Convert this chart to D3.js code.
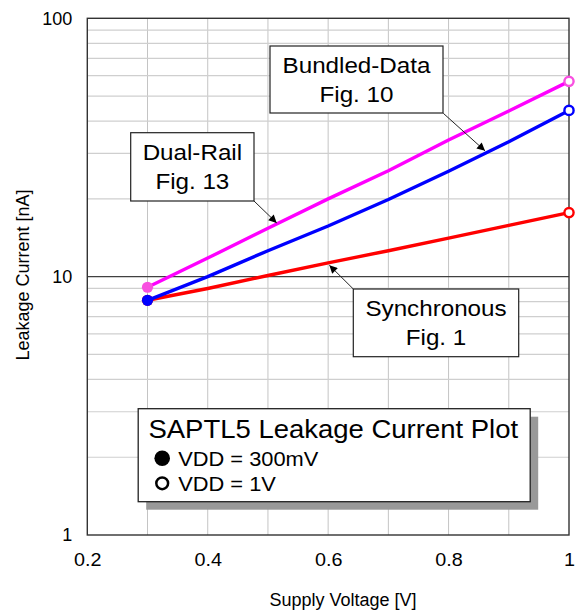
<!DOCTYPE html>
<html>
<head>
<meta charset="utf-8">
<script src="https://cdn.jsdelivr.net/npm/d3@7"></script>
<style>
  html, body { margin: 0; padding: 0; background: #fff; }
  svg { display: block; font-family: "Liberation Sans", Arial, sans-serif; }
</style>
</head>
<body>
<svg id="chart" width="588" height="612"></svg>
<script>
// ---------------- data ----------------
const voltages     = [0.3, 0.4, 0.5, 0.6, 0.7, 0.8, 0.9, 1.0];
const dualRail     = [9.1, 11.8, 15.4, 20.0, 25.7, 33.8, 43.8, 57.0];
const bundledData  = [8.1, 10.0, 12.6, 15.7, 19.9, 25.6, 33.3, 44.0];
const synchronous  = [8.1, 9.0, 10.1, 11.3, 12.6, 14.1, 15.8, 17.7];

const xTickValues  = [0.2, 0.4, 0.6, 0.8, 1.0];
const yTickValues  = [1, 10, 100];
const xGridValues  = [0.3, 0.4, 0.5, 0.6, 0.7, 0.8, 0.9];

const seriesNames  = ["Synchronous", "Bundled-Data", "Dual-Rail"];
const seriesLabels = [["Synchronous", "Fig. 1"], ["Bundled-Data", "Fig. 10"], ["Dual-Rail", "Fig. 13"]];
const legendTitle  = "SAPTL5 Leakage Current Plot";
const legendItems  = ["VDD = 300mV", "VDD = 1V"];
const xTitle = "Supply Voltage [V]";
const yTitle = "Leakage Current [nA]";

// ---------------- layout ----------------
const svg = d3.select("#chart");
const plot = { left: 87.3, right: 569, top: 18.3, bottom: 535 };
const FONT = '"Liberation Sans", Arial, sans-serif';

const x = d3.scaleLinear().domain([0.2, 1.0]).range([plot.left, plot.right]);
const y = d3.scaleLog().domain([1, 100]).range([plot.bottom, plot.top]);

const seriesStyle = {
  "Synchronous":  { values: synchronous, line: "#ff0000", marker: "#ff0000" },
  "Bundled-Data": { values: bundledData, line: "#0000ff", marker: "#0000ff" },
  "Dual-Rail":    { values: dualRail,    line: "#ff00ff", marker: "#f850e0" }
};

// ---------------- grid ----------------
const grid = svg.append("g");
grid.selectAll("line.vg").data(xGridValues).join("line")
  .attr("x1", d => x(d)).attr("x2", d => x(d))
  .attr("y1", plot.top).attr("y2", plot.bottom)
  .attr("stroke", "#c4c4c4").attr("stroke-width", 1);

const minorY = y.ticks().filter(v => yTickValues.indexOf(v) < 0);
grid.selectAll("line.hg").data(minorY).join("line")
  .attr("x1", plot.left).attr("x2", plot.right)
  .attr("y1", d => y(d)).attr("y2", d => y(d))
  .attr("stroke", "#cfcfcf").attr("stroke-width", 1.2);

grid.selectAll("line.hm").data([10]).join("line")
  .attr("x1", plot.left).attr("x2", plot.right)
  .attr("y1", d => y(d)).attr("y2", d => y(d))
  .attr("stroke", "#404040").attr("stroke-width", 1.3);

// frame
svg.append("rect")
  .attr("x", plot.left).attr("y", plot.top)
  .attr("width", plot.right - plot.left).attr("height", plot.bottom - plot.top)
  .attr("fill", "none").attr("stroke", "#333").attr("stroke-width", 1.4);

// ---------------- axes ----------------
const xAxis = d3.axisBottom(x).tickValues(xTickValues).tickSize(0).tickPadding(18)
  .tickFormat(d => d === 1 ? "1" : d3.format(".1f")(d));
const gx = svg.append("g").attr("transform", `translate(0,${plot.bottom})`).call(xAxis);
gx.select(".domain").remove();
gx.selectAll("text").attr("font-size", 19).attr("font-family", FONT).attr("fill", "#000")
  .attr("transform", "scale(1.04,1)");

const yAxis = d3.axisLeft(y).tickValues(yTickValues).tickSize(0).tickPadding(15)
  .tickFormat(d3.format("d"));
const gy = svg.append("g").attr("transform", `translate(${plot.left},0)`).call(yAxis);
gy.select(".domain").remove();
gy.selectAll("text").attr("font-size", 18).attr("font-family", FONT).attr("fill", "#000");

svg.append("text").attr("x", 343).attr("y", 606)
  .attr("text-anchor", "middle").attr("font-size", 18).text(xTitle);
svg.append("text").attr("transform", "translate(28.5,275) rotate(-90)")
  .attr("text-anchor", "middle").attr("font-size", 18).text(yTitle);

// ---------------- series ----------------
const line = d3.line().x(d => x(d[0])).y(d => y(d[1]));
const seriesG = svg.append("g");
seriesNames.forEach(name => {
  const s = seriesStyle[name];
  const pts = voltages.map((v, i) => [v, s.values[i]]);
  seriesG.append("path").datum(pts)
    .attr("d", line).attr("fill", "none")
    .attr("stroke", s.line).attr("stroke-width", 3.4)
    .attr("stroke-linejoin", "round");
  const first = pts[0], last = pts[pts.length - 1];
  seriesG.append("circle").attr("cx", x(first[0])).attr("cy", y(first[1]))
    .attr("r", 5.6).attr("fill", s.marker);
  seriesG.append("circle").attr("cx", x(last[0])).attr("cy", y(last[1]))
    .attr("r", 4.6).attr("fill", "#fff").attr("stroke", s.marker).attr("stroke-width", 2.4);
});

// ---------------- annotations ----------------
const defs = svg.append("defs");
defs.append("marker").attr("id", "arrow").attr("viewBox", "0 0 10 10")
  .attr("refX", 10).attr("refY", 5).attr("markerWidth", 9).attr("markerHeight", 8)
  .attr("markerUnits", "userSpaceOnUse").attr("orient", "auto")
  .append("path").attr("d", "M0,0 L10,5 L0,10 Z").attr("fill", "#000");

function valueAt(name, v) {
  const vals = seriesStyle[name].values;
  for (let i = 0; i < voltages.length - 1; i++) {
    if (v >= voltages[i] && v <= voltages[i + 1]) {
      const t = (v - voltages[i]) / (voltages[i + 1] - voltages[i]);
      return Math.pow(10, Math.log10(vals[i]) * (1 - t) + Math.log10(vals[i + 1]) * t);
    }
  }
  return vals[vals.length - 1];
}

function sText(g, px, py, str, size, sx, anchor) {
  return g.append("text").attr("transform", `translate(${px},${py}) scale(${sx},1)`)
    .attr("text-anchor", anchor).attr("font-size", size).attr("fill", "#000").text(str);
}

const annotations = [
  { name: "Bundled-Data", box: [270, 46, 173, 67], from: [443.3, 113.3], tipV: 0.8605, tipDy: -2.5 },
  { name: "Dual-Rail",    box: [130.7, 132.7, 123.3, 68.3], from: [254, 201], tipV: 0.5146, tipDy: -1 },
  { name: "Synchronous",  box: [353.3, 289, 165.4, 67.7], from: [353.3, 289], tipV: 0.602, tipDy: 2.5 }
];
const annG = svg.append("g");
annotations.forEach(a => {
  const lbl = seriesLabels[seriesNames.indexOf(a.name)];
  const [bx, by, bw, bh] = a.box;
  annG.append("rect").attr("x", bx).attr("y", by).attr("width", bw).attr("height", bh)
    .attr("fill", "#fff").attr("stroke", "#222").attr("stroke-width", 1.2);
  const cx = bx + bw / 2;
  sText(annG, cx, by + 27, lbl[0], 22, 1.1, "middle");
  sText(annG, cx, by + 56, lbl[1], 22, 1.1, "middle");
  const tx = x(a.tipV), ty = y(valueAt(a.name, a.tipV)) + a.tipDy;
  annG.append("line").attr("x1", a.from[0]).attr("y1", a.from[1])
    .attr("x2", tx).attr("y2", ty)
    .attr("stroke", "#222").attr("stroke-width", 1).attr("marker-end", "url(#arrow)");
});

// ---------------- legend ----------------
const lg = svg.append("g");
const L = { x: 138.2, y: 408.7, w: 392, h: 93, sh: 8 };
lg.append("rect").attr("x", L.x + L.sh).attr("y", L.y + L.sh).attr("width", L.w).attr("height", L.h)
  .attr("fill", "#999");
lg.append("rect").attr("x", L.x).attr("y", L.y).attr("width", L.w).attr("height", L.h)
  .attr("fill", "#fff").attr("stroke", "#222").attr("stroke-width", 1.3);
sText(lg, L.x + 10.2, L.y + 29.5, legendTitle, 25, 1.1, "start");
lg.append("circle").attr("cx", L.x + 24).attr("cy", L.y + 49.6).attr("r", 7.8).attr("fill", "#000");
sText(lg, L.x + 40, L.y + 57, legendItems[0], 19.5, 1.12, "start");
lg.append("circle").attr("cx", L.x + 24).attr("cy", L.y + 74.6).attr("r", 5.9)
  .attr("fill", "#fff").attr("stroke", "#000").attr("stroke-width", 2.5);
sText(lg, L.x + 40, L.y + 82, legendItems[1], 19.5, 1.12, "start");
</script>
</body>
</html>
